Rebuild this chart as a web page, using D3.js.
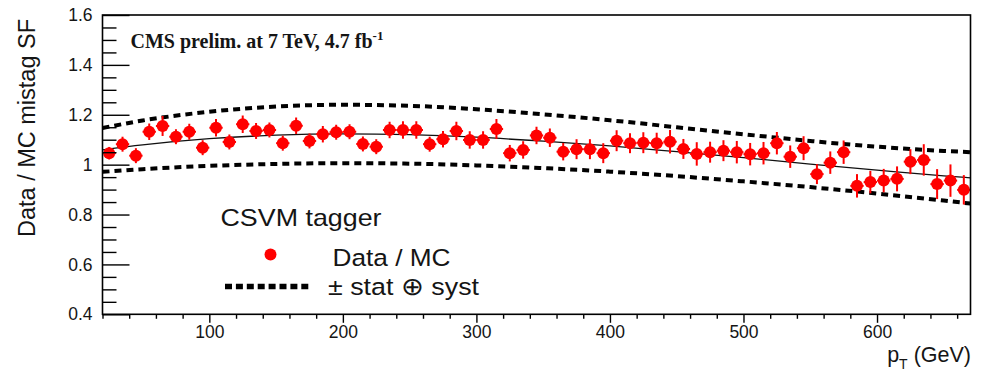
<!DOCTYPE html>
<html>
<head>
<meta charset="utf-8">
<script src="https://cdn.jsdelivr.net/npm/d3@7/dist/d3.min.js"></script>
<style>
  html, body { margin: 0; padding: 0; background: #ffffff; }
  svg { display: block; }
</style>
</head>
<body>
<svg id="chart" width="981" height="372"></svg>
<script>
// ---------- data ----------
const ptCenters = [25,35,45,55,65,75,85,95,105,115,125,135,145,155,165,175,185,195,205,215,
  225,235,245,255,265,275,285,295,305,315,325,335,345,355,365,375,385,395,405,415,
  425,435,445,455,465,475,485,495,505,515,525,535,545,555,565,575,585,595,605,615,
  625,635,645,655,665];
const ptHalfWidth = [5];
const sfValues = [1.046,1.082,1.036,1.132,1.155,1.112,1.132,1.068,1.148,1.091,
  1.162,1.135,1.139,1.086,1.156,1.095,1.122,1.130,1.132,1.083,
  1.072,1.139,1.139,1.139,1.082,1.102,1.135,1.099,1.099,1.143,
  1.046,1.059,1.117,1.108,1.052,1.062,1.062,1.046,1.096,1.086,
  1.088,1.086,1.092,1.063,1.043,1.050,1.056,1.050,1.042,1.046,
  1.086,1.032,1.066,0.962,1.008,1.050,0.915,0.930,0.936,0.943,
  1.012,1.019,0.922,0.936,0.899];
const sfErrors = [0.025,0.030,0.030,0.033,0.040,0.030,0.032,0.030,0.035,0.030,
  0.035,0.032,0.030,0.030,0.033,0.030,0.033,0.030,0.030,0.030,
  0.030,0.033,0.035,0.035,0.030,0.033,0.037,0.035,0.035,0.040,
  0.033,0.035,0.035,0.037,0.035,0.040,0.040,0.040,0.042,0.040,
  0.042,0.042,0.047,0.040,0.047,0.042,0.042,0.045,0.045,0.045,
  0.045,0.045,0.048,0.040,0.045,0.047,0.047,0.045,0.047,0.050,
  0.050,0.063,0.060,0.065,0.059];
// fit curve and stat(+)syst envelope, read at these pT values
const curvePt   = [20,50,100,150,200,250,300,350,400,450,500,550,600,650,670];
const fitMean   = [1.059,1.079,1.104,1.118,1.123,1.120,1.110,1.094,1.075,1.052,1.028,1.002,0.978,0.955,0.947];
const envUpper  = [1.147,1.177,1.212,1.233,1.240,1.236,1.222,1.202,1.178,1.150,1.122,1.095,1.072,1.055,1.050];
const envLower  = [0.971,0.982,0.995,1.003,1.006,1.004,0.997,0.986,0.972,0.954,0.933,0.910,0.884,0.856,0.844];
const xMajorTicks = [100,200,300,400,500,600];
const yMajorTicks = [0.4,0.6,0.8,1.0,1.2,1.4,1.6];
const yTickLabels = ["0.4","0.6","0.8","1","1.2","1.4","1.6"];

// ---------- layout ----------
const svg = d3.select("#chart");
const L = 102.5, R = 970.5, T = 15, B = 314.3;
const x = d3.scaleLinear().domain([20, 670]).range([L, R]);
const y = d3.scaleLinear().domain([0.4, 1.6]).range([B, T]);
const sans = "'Liberation Sans', Arial, Helvetica, sans-serif";
const serif = "'Liberation Serif', 'Times New Roman', serif";
const ink = "#151515";

// envelope lines
const lineGen = d3.line().x((d, i) => x(curvePt[i])).y(d => y(d)).curve(d3.curveMonotoneX);
[envUpper, envLower].forEach(arr => {
  svg.append("path").datum(arr).attr("d", lineGen)
    .attr("fill", "none").attr("stroke", "#000").attr("stroke-width", 4)
    .attr("stroke-dasharray", "7,5");
});
// fit line
svg.append("path").datum(fitMean).attr("d", lineGen)
  .attr("fill", "none").attr("stroke", "#111").attr("stroke-width", 1.3);

// data points
const pts = svg.append("g");
const red = "#ff0000";
ptCenters.forEach((pt, i) => {
  const v = sfValues[i], e = sfErrors[i];
  pts.append("line").attr("x1", x(pt)).attr("x2", x(pt))
    .attr("y1", y(v - e)).attr("y2", y(v + e))
    .attr("stroke", red).attr("stroke-width", 2);
  pts.append("line").attr("x1", x(pt - ptHalfWidth[0])).attr("x2", x(pt + ptHalfWidth[0]))
    .attr("y1", y(v)).attr("y2", y(v))
    .attr("stroke", red).attr("stroke-width", 2);
  pts.append("circle").attr("cx", x(pt)).attr("cy", y(v)).attr("r", 6).attr("fill", red);
});

// frame
svg.append("rect").attr("x", L).attr("y", T).attr("width", R - L).attr("height", B - T)
  .attr("fill", "none").attr("stroke", "#000").attr("stroke-width", 1.6);

// x axis: major + minor ticks pointing down
const xMinor = d3.range(20, 671, 20).filter(v => v % 100 !== 0);
const gxMin = svg.append("g").attr("transform", `translate(0,${B})`)
  .call(d3.axisBottom(x).tickValues(xMinor).tickSize(4.5).tickFormat(""));
const gx = svg.append("g").attr("transform", `translate(0,${B})`)
  .call(d3.axisBottom(x).tickValues(xMajorTicks).tickSize(8.5).tickPadding(3)
    .tickFormat(d3.format("d")));
[gx, gxMin].forEach(g => {
  g.select(".domain").remove();
  g.selectAll("line").attr("stroke", "#000").attr("stroke-width", 1.4);
});
gx.selectAll("text").attr("font-family", sans).attr("font-size", 17.5).attr("fill", ink);

// y axis: ticks inside (pointing right)
const yMinor = d3.range(0.45, 1.6, 0.05).map(v => +v.toFixed(2))
  .filter(v => yMajorTicks.every(m => Math.abs(m - v) > 1e-6));
const gyMin = svg.append("g").attr("transform", `translate(${L},0)`)
  .call(d3.axisRight(y).tickValues(yMinor).tickSize(14).tickFormat(""));
const gy = svg.append("g").attr("transform", `translate(${L},0)`)
  .call(d3.axisRight(y).tickValues(yMajorTicks).tickSize(27).tickFormat(""));
[gy, gyMin].forEach(g => {
  g.select(".domain").remove();
  g.selectAll("line").attr("stroke", "#000").attr("stroke-width", 1.4);
});
const gyLab = svg.append("g").attr("transform", `translate(${L},0)`)
  .call(d3.axisLeft(y).tickValues(yMajorTicks).tickSize(0).tickPadding(10)
    .tickFormat((d, i) => yTickLabels[i]));
gyLab.select(".domain").remove();
gyLab.selectAll("text").attr("font-family", sans).attr("font-size", 17.5).attr("fill", ink);

// axis titles
svg.append("text")
  .attr("transform", "translate(35,19) rotate(-90)")
  .attr("text-anchor", "end")
  .attr("font-family", sans).attr("font-size", 23).attr("fill", ink)
  .attr("textLength", 218).attr("lengthAdjust", "spacingAndGlyphs")
  .text("Data / MC mistag SF");

const xt = svg.append("text").attr("x", R + 0.5).attr("y", 362).attr("text-anchor", "end")
  .attr("font-family", sans).attr("font-size", 21.5).attr("fill", ink);
xt.append("tspan").text("p");
xt.append("tspan").attr("dy", 7).attr("font-size", 14).text("T");
xt.append("tspan").attr("dy", -7).text(" (GeV)");

// CMS label
const cms = svg.append("text").attr("x", 130.5).attr("y", 48)
  .attr("font-family", serif).attr("font-weight", "bold").attr("font-size", 20).attr("fill", ink);
cms.append("tspan").text("CMS prelim. at 7 TeV, 4.7 fb");
cms.append("tspan").attr("dy", -8).attr("font-size", 13).text("-1");

// legend
svg.append("text").attr("x", 220.5).attr("y", 225.5)
  .attr("font-family", sans).attr("font-size", 24).attr("fill", ink)
  .attr("textLength", 161).attr("lengthAdjust", "spacingAndGlyphs").text("CSVM tagger");
svg.append("circle").attr("cx", 270.5).attr("cy", 254.5).attr("r", 6).attr("fill", red);
svg.append("text").attr("x", 332.5).attr("y", 265.5)
  .attr("font-family", sans).attr("font-size", 24.5).attr("fill", ink)
  .attr("textLength", 118).attr("lengthAdjust", "spacingAndGlyphs").text("Data / MC");
svg.append("line").attr("x1", 225).attr("x2", 312).attr("y1", 286.5).attr("y2", 286.5)
  .attr("stroke", "#000").attr("stroke-width", 5.5).attr("stroke-dasharray", "7,3.9");
svg.append("text").attr("x", 328).attr("y", 295)
  .attr("font-family", sans).attr("font-size", 24.5).attr("fill", ink)
  .attr("textLength", 151).attr("lengthAdjust", "spacingAndGlyphs").text("± stat ⊕ syst");
</script>
</body>
</html>
